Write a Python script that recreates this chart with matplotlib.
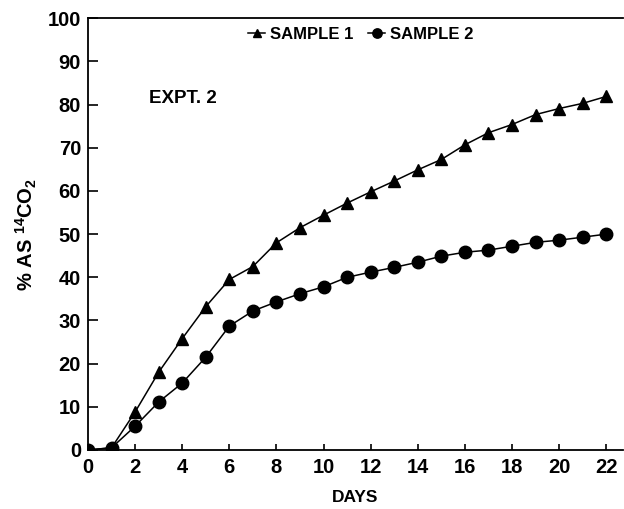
import matplotlib
matplotlib.use("Agg")
import matplotlib.pyplot as plt

# datos
dias = list(range(0, 23))
muestra1 = [0, 0.5, 8.8, 18.0, 25.8, 33.2, 39.5, 42.5, 48.0, 51.5, 54.4, 57.2,
            59.8, 62.3, 64.9, 67.3, 70.7, 73.5, 75.4, 77.7, 79.1, 80.3, 81.9]
muestra2 = [0, 0.5, 5.5, 11.1, 15.5, 21.5, 28.7, 32.2, 34.3, 36.2, 37.8, 40.0,
            41.2, 42.3, 43.5, 44.9, 45.8, 46.3, 47.2, 48.1, 48.6, 49.3, 50.0]
etiquetas = ["SAMPLE 1", "SAMPLE 2"]

plt.rcParams["font.family"] = ["Liberation Sans", "DejaVu Sans"]
plt.rcParams["font.weight"] = "bold"
plt.rcParams["mathtext.fontset"] = "custom"
plt.rcParams["mathtext.bf"] = "Liberation Sans:bold"
plt.rcParams["mathtext.rm"] = "Liberation Sans:bold"
plt.rcParams["mathtext.default"] = "bf"

fig = plt.figure(figsize=(6.24, 5.09), dpi=100)
ax = fig.add_axes([0.141, 0.116, 0.857, 0.848])

ax.plot(dias, muestra1, marker="^", markersize=8.5, color="black", lw=1.1, label=etiquetas[0])
ax.plot(dias, muestra2, marker="o", markersize=9, color="black", lw=1.1, label=etiquetas[1])

ax.set_xlim(0, 22.7)
ax.set_ylim(0, 100)
ax.set_xticks(range(0, 23, 2))
ax.set_yticks(range(0, 101, 10))
ax.spines["right"].set_visible(False)
for s in ["left", "bottom", "top"]:
    ax.spines[s].set_linewidth(1.3)
ax.tick_params(axis="y", direction="in", length=7, width=1.2, pad=5, labelsize=14.5)
ax.tick_params(axis="x", direction="in", length=4.5, width=1.2, pad=6, labelsize=14.5)

ax.set_xlabel("DAYS", fontsize=12.5, fontweight="bold", labelpad=9)
ax.set_ylabel(r"% AS $^{14}$CO$_{2}$", fontsize=14.5, fontweight="bold", labelpad=6)

ax.text(2.6, 80.3, "EXPT. 2", fontsize=13.5, fontweight="bold")

ax.legend(loc="upper center", bbox_to_anchor=(0.51, 1.015), ncol=2, frameon=False,
          handlelength=1.0, handletextpad=0.3, columnspacing=0.9,
          prop={"weight": "bold", "size": 12}, markerscale=0.75)

plt.savefig("out.png", dpi=100)
